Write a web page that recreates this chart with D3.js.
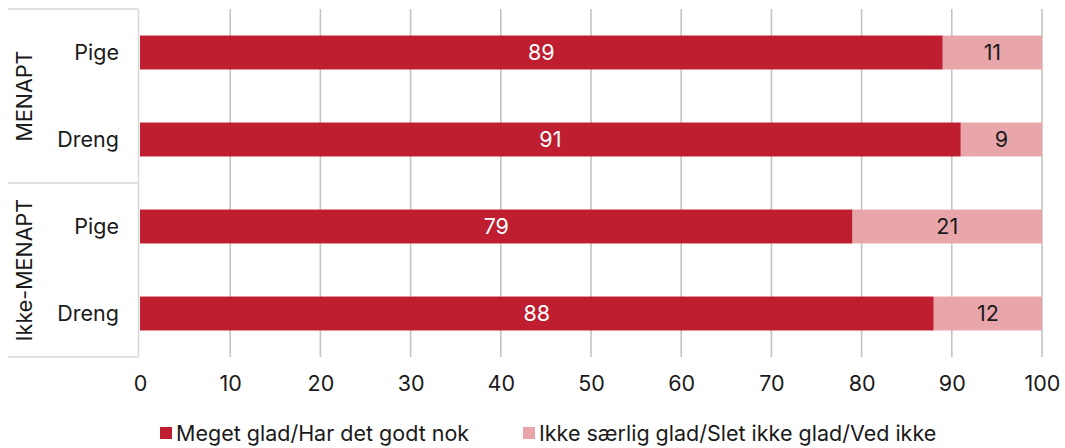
<!DOCTYPE html>
<html><head><meta charset="utf-8">
<script src="https://cdn.jsdelivr.net/npm/d3@7"></script>
<style>body{margin:0;background:#fff}svg{display:block;font-family:Inter,"Noto Sans",sans-serif}</style>
</head><body><svg id="c" width="1065" height="448"></svg>
<script>
const groups = ["MENAPT", "MENAPT", "Ikke-MENAPT", "Ikke-MENAPT"];
const categories = ["Pige", "Dreng", "Pige", "Dreng"];
const seriesNames = ["Meget glad/Har det godt nok", "Ikke særlig glad/Slet ikke glad/Ved ikke"];
const glad = [89, 91, 79, 88];
const ikkeGlad = [11, 9, 21, 12];
const ticks = [0, 10, 20, 30, 40, 50, 60, 70, 80, 90, 100];
const colors = ["#be1e2f", "#e8a6ab"];

const FS = 21.5;
const svg = d3.select("#c");
const pTop = 9, pBottom = 357, pLeft = 140, pRight = 1042;
const x = d3.scaleLinear().domain([0, 100]).range([pLeft, pRight]);
const y = d3.scaleBand().domain(d3.range(categories.length)).range([pTop, pBottom]).paddingInner(0.61).paddingOuter(0.305);

// gridlines
svg.append("g").selectAll("line").data(ticks.slice(1)).join("line")
  .attr("x1", d => x(d)).attr("x2", d => x(d)).attr("y1", pTop).attr("y2", pBottom)
  .attr("stroke", "#c4c4c4").attr("stroke-width", 1.6);

// left axis frame
const ax = svg.append("g").attr("stroke", "#d9d9d9").attr("stroke-width", 1.5);
ax.append("line").attr("x1", 138.5).attr("x2", 138.5).attr("y1", pTop).attr("y2", pBottom);
const groupNames = Array.from(new Set(groups));
const bounds = [pTop];
groupNames.forEach(g => {
  const idx = groups.map((v, i) => v === g ? i : -1).filter(i => i >= 0);
  const last = idx[idx.length - 1];
  bounds.push(y(last) + y.bandwidth() + y.step() * y.paddingInner() / 2);
});
bounds[bounds.length - 1] = pBottom;
bounds.forEach(b => ax.append("line").attr("x1", 8).attr("x2", 138.5).attr("y1", b).attr("y2", b));

groupNames.forEach((g, i) => {
  const cy = (bounds[i] + bounds[i + 1]) / 2;
  svg.append("text").attr("transform", `translate(32,${cy}) rotate(-90)`)
    .attr("text-anchor", "middle").attr("font-size", FS).attr("fill", "#1a1a1a").text(g);
});

svg.append("g").selectAll("text").data(categories).join("text")
  .attr("x", 119).attr("y", (d, i) => y(i) + y.bandwidth() / 2).attr("dy", "0.35em")
  .attr("text-anchor", "end").attr("font-size", FS).attr("fill", "#1a1a1a").text(d => d);

// bars
const rows = categories.map((c, i) => ({i, a: glad[i], b: ikkeGlad[i]}));
const bars = svg.append("g");
bars.selectAll(".a").data(rows).join("rect").attr("class", "a")
  .attr("x", x(0)).attr("y", d => y(d.i)).attr("width", d => x(d.a) - x(0)).attr("height", y.bandwidth()).attr("fill", colors[0]);
bars.selectAll(".b").data(rows).join("rect").attr("class", "b")
  .attr("x", d => x(d.a)).attr("y", d => y(d.i)).attr("width", d => x(d.a + d.b) - x(d.a)).attr("height", y.bandwidth()).attr("fill", colors[1]);
bars.selectAll(".ta").data(rows).join("text").attr("class", "ta")
  .attr("x", d => x(d.a / 2)).attr("y", d => y(d.i) + y.bandwidth() / 2).attr("dy", "0.35em")
  .attr("text-anchor", "middle").attr("font-size", FS).attr("fill", "#fff").text(d => d.a);
bars.selectAll(".tb").data(rows).join("text").attr("class", "tb")
  .attr("x", d => x(d.a + d.b / 2)).attr("y", d => y(d.i) + y.bandwidth() / 2).attr("dy", "0.35em")
  .attr("text-anchor", "middle").attr("font-size", FS).attr("fill", "#1a1a1a").text(d => d.b);

// x axis
const xa = svg.append("g").attr("transform", `translate(0,${pBottom})`)
  .call(d3.axisBottom(x).tickValues(ticks).tickSize(0).tickPadding(19));
xa.select(".domain").remove();
xa.selectAll("text").attr("font-size", FS).attr("fill", "#1a1a1a").attr("font-family", "Inter,'Noto Sans',sans-serif");

// legend
const legX = [160, 523];
const leg = svg.append("g");
seriesNames.forEach((s, i) => {
  leg.append("rect").attr("x", legX[i]).attr("y", 427).attr("width", 12).attr("height", 12).attr("fill", colors[i]);
  leg.append("text").attr("x", legX[i] + 16).attr("y", 433).attr("dy", "0.35em").attr("font-size", FS).attr("fill", "#1a1a1a").text(s);
});
</script></body></html>
